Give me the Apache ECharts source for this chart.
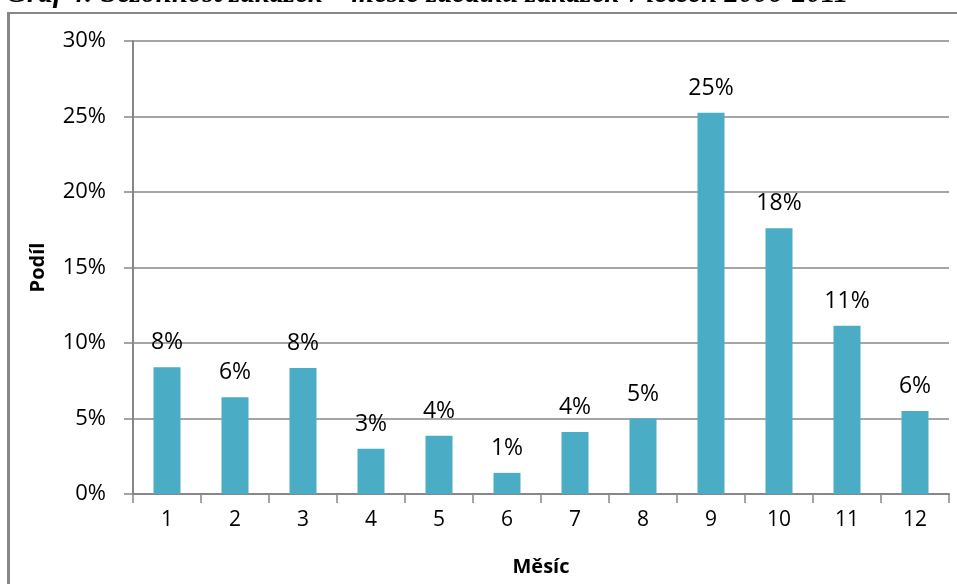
<!DOCTYPE html>
<html>
<head>
<meta charset="utf-8">
<script src="https://cdn.jsdelivr.net/npm/echarts@6/dist/echarts.min.js"></script>
<style>
  html, body { margin: 0; padding: 0; background: #fff; overflow: hidden; }
  #chart { width: 957px; height: 584px; }
</style>
</head>
<body>
<div id="chart"></div>
<script>
// Month in which contracts started, share of all contracts (%)
const months = ['1', '2', '3', '4', '5', '6', '7', '8', '9', '10', '11', '12'];
const shares = [8.4, 6.4, 8.35, 3.0, 3.85, 1.4, 4.1, 5.0, 25.25, 17.6, 11.15, 5.5];
const yTicks = [0, 5, 10, 15, 20, 25, 30];

const titleText = 'Graf 4: Sezónnost zakázek – měsíc začátku zakázek v letech 2006-2011';
const uiFont = '"Open Sans", sans-serif';
const lineGray = '#878787';

const chart = echarts.init(document.getElementById('chart'), null, { renderer: 'canvas' });

chart.setOption({
  animation: false,
  backgroundColor: '#fff',
  grid: { left: 133, top: 41, right: 8, bottom: 90, containLabel: false },
  graphic: [
    {
      type: 'text', left: 6, top: -20, z: 10,
      style: {
        text: titleText,
        font: 'italic bold 29px "Liberation Serif", "DejaVu Serif", serif',
        fill: '#000'
      }
    },
    // frame around the chart area
    { type: 'rect', shape: { x: 7, y: 12, width: 960, height: 2 }, style: { fill: lineGray } },
    { type: 'rect', shape: { x: 7, y: 12, width: 3, height: 580 }, style: { fill: lineGray } }
  ],
  xAxis: {
    type: 'category',
    data: months,
    name: 'Měsíc',
    nameLocation: 'middle',
    nameGap: 63,
    nameTextStyle: { fontFamily: uiFont, fontWeight: 'bold', fontSize: 20, color: '#000' },
    axisLine: { lineStyle: { color: lineGray, width: 2 } },
    axisTick: { show: true, length: 9, lineStyle: { color: lineGray, width: 1.5 } },
    axisLabel: { fontFamily: uiFont, fontSize: 21, color: '#000', margin: 16 }
  },
  yAxis: {
    type: 'value',
    min: 0, max: 30, interval: 5,
    name: 'Podíl',
    nameLocation: 'middle',
    nameGap: 85,
    nameRotate: 90,
    nameTextStyle: { fontFamily: uiFont, fontWeight: 'bold', fontSize: 20, color: '#000' },
    axisLine: { show: true, lineStyle: { color: lineGray, width: 2 } },
    axisTick: { show: true, length: 9, lineStyle: { color: lineGray, width: 1.5 } },
    axisLabel: {
      fontFamily: uiFont, fontSize: 22, color: '#000', margin: 27,
      formatter: v => yTicks.includes(v) ? v + '%' : ''
    },
    splitLine: { show: true, lineStyle: { color: lineGray, width: 1.5 } }
  },
  series: [{
    type: 'bar',
    data: shares,
    barWidth: 27,
    itemStyle: { color: '#4bacc6' },
    label: {
      show: true,
      position: 'top',
      distance: 13,
      fontFamily: uiFont,
      fontSize: 23,
      color: '#000',
      formatter: p => Math.round(p.value) + '%'
    }
  }]
});
</script>
</body>
</html>
